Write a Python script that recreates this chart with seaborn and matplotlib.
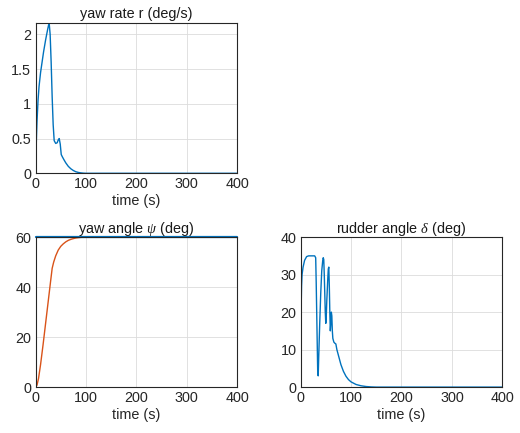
import numpy as np
import matplotlib
matplotlib.use("Agg")
import matplotlib.pyplot as plt
from matplotlib.ticker import FormatStrFormatter
import seaborn as sns

# yaw rate r (deg/s)
t_r = [0, 1, 2, 3, 5, 7, 10, 13, 16, 20, 24, 27, 29, 31, 33, 35, 37, 40, 43, 45,
       47, 49, 51, 53, 56, 60, 65, 70, 75, 80, 85, 90, 95, 100, 400]
r = [0, 0.3, 0.55, 0.75, 1.05, 1.25, 1.45, 1.6, 1.75, 1.92, 2.07, 2.17, 2.0, 1.6,
     1.1, 0.7, 0.47, 0.43, 0.44, 0.48, 0.5, 0.42, 0.27, 0.24, 0.2, 0.15, 0.1,
     0.065, 0.04, 0.022, 0.012, 0.006, 0.002, 0, 0]

# yaw angle psi (deg): desired and actual
t_psi_d = [0, 400]
psi_d = [60, 60]
t_psi = [0, 3, 6, 10, 15, 20, 25, 30, 33, 36, 40, 45, 50, 55, 60, 65, 70, 75, 80,
         85, 90, 95, 100, 400]
psi = [0, 0.8, 3.5, 9, 17, 25.5, 34, 42.5, 47.5, 50, 52.5, 54.8, 56.3, 57.3, 58.1,
       58.7, 59.1, 59.4, 59.65, 59.8, 59.9, 59.97, 60, 60]

# rudder angle delta (deg)
t_delta = [0, 0.5, 1, 2, 3, 5, 8, 12, 16, 28, 30, 31, 32, 33, 34, 35, 36, 38, 40, 42,
           44, 45, 46, 47, 48, 49, 50, 51, 52, 54, 55, 56, 57, 58, 59, 60, 61, 62, 63,
           64, 66, 68, 70, 72, 75, 80, 85, 90, 95, 100, 110, 120, 130, 140, 150, 400]
delta = [0, 10, 20, 27, 30, 32, 33.8, 34.8, 35, 35, 34.5, 28, 20, 12, 4, 3, 8, 17, 25, 31,
         33.8, 34.5, 34, 30, 25, 20, 17, 19, 23, 29, 31.5, 32, 27, 20, 15, 17, 20, 19, 15,
         13, 12, 11.7, 11.5, 10, 8.5, 6, 4.2, 2.9, 2, 1.4, 0.7, 0.35, 0.15, 0.05, 0, 0]

BLUE = "#0072BD"
ORANGE = "#D95319"

sns.set_style("white")
plt.rcParams["font.family"] = ["Liberation Sans", "DejaVu Sans"]
plt.rcParams["mathtext.fontset"] = "custom"
plt.rcParams["mathtext.it"] = "Liberation Serif:italic"
FS = 10.4


def style_axes(ax, ylim, yticks, title):
    ax.set_xlim(0, 400)
    ax.set_ylim(*ylim)
    ax.set_xticks([0, 100, 200, 300, 400])
    ax.set_yticks(yticks)
    ax.yaxis.set_major_formatter(FormatStrFormatter("%g"))
    ax.grid(True, color="#dcdcdc", linewidth=0.6)
    ax.tick_params(direction="in", length=3, width=0.6, labelsize=FS,
                   colors="#262626", pad=3)
    for s in ax.spines.values():
        s.set_visible(True)
        s.set_color("#262626")
        s.set_linewidth(0.8)
    ax.set_title(title, fontsize=FS, color="#1a1a1a", pad=3)
    ax.set_xlabel("time (s)", fontsize=FS, color="#262626", labelpad=2)
    ax.set_ylabel("")


fig = plt.figure(figsize=(5.2, 4.33), dpi=100)

ax1 = fig.add_axes([0.0683, 0.5998, 0.388, 0.348])
sns.lineplot(x=t_r, y=r, ax=ax1, color=BLUE, linewidth=1.0)
style_axes(ax1, (0, 2.17), [0, 0.5, 1, 1.5, 2], "yaw rate r (deg/s)")

ax2 = fig.add_axes([0.0683, 0.106, 0.388, 0.3464])
sns.lineplot(x=t_psi_d, y=psi_d, ax=ax2, color=BLUE, linewidth=1.6, clip_on=False)
sns.lineplot(x=t_psi, y=psi, ax=ax2, color=ORANGE, linewidth=1.0)
style_axes(ax2, (0, 60), [0, 20, 40, 60], r"yaw angle $\psi$ (deg)")

ax3 = fig.add_axes([0.578, 0.106, 0.388, 0.3464])
sns.lineplot(x=t_delta, y=delta, ax=ax3, color=BLUE, linewidth=1.0)
style_axes(ax3, (0, 40), [0, 10, 20, 30, 40], r"rudder angle $\delta$ (deg)")

fig.savefig("out.png", dpi=100)
